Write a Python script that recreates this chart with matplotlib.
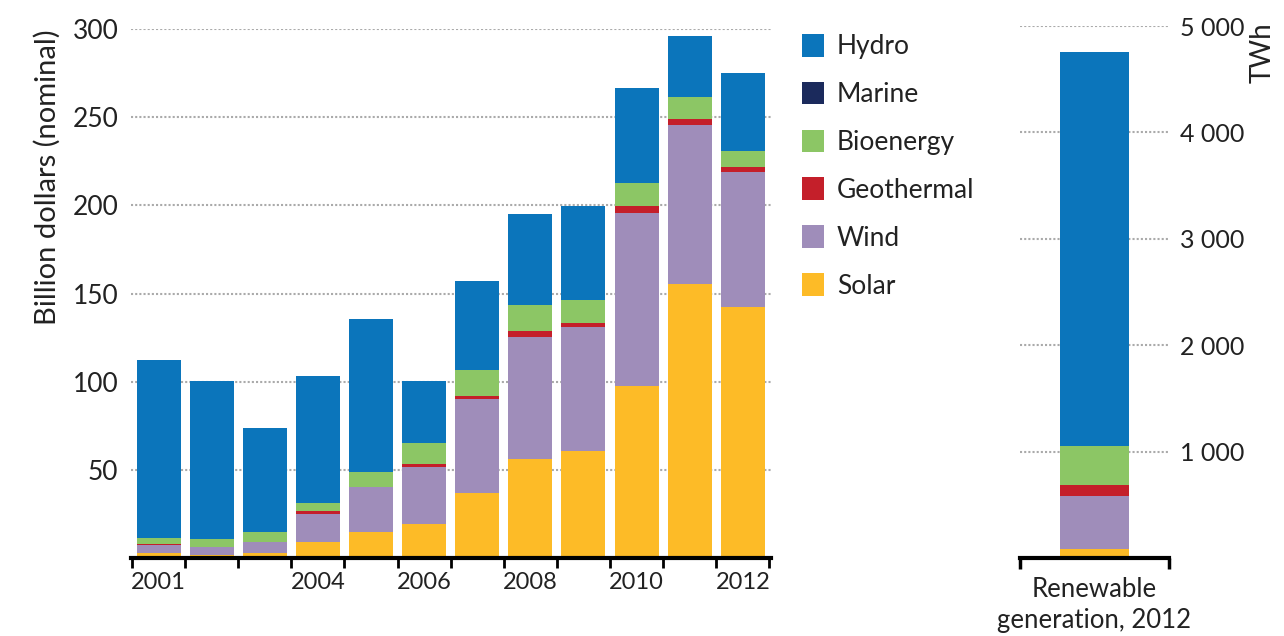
import matplotlib.pyplot as plt
from matplotlib.patches import Patch
from matplotlib import ticker

plt.rcParams['font.family'] = ['Lato', 'DejaVu Sans']

# 投资数据 (billion dollars)
years = ['2001', '2002', '2003', '2004', '2005', '2006',
         '2007', '2008', '2009', '2010', '2011', '2012']
solar = [3, 1.5, 3, 9, 15, 19.3, 37, 56.3, 60.9, 97.7, 155.4, 142.2]
wind = [4.5, 4.5, 6, 16, 25, 32.5, 53, 69.2, 70.3, 97.8, 90.2, 76.6]
geothermal = [0.2, 0.2, 0.2, 1.7, 0.4, 1.5, 2, 3.3, 1.9, 4.3, 3.2, 3.2]
bioenergy = [3.4, 4.4, 5.8, 4.5, 8.4, 11.7, 14.6, 14.5, 13.5, 13, 12.8, 8.8]
marine = [0, 0, 0, 0, 0, 0, 0, 0, 0, 0, 0, 0]
hydro = [101, 90, 59, 72, 87, 35.5, 50.5, 52, 53.1, 53.5, 34.3, 44.4]
shown_years = ['2001', '2004', '2006', '2008', '2010', '2012']

# 2012 可再生能源发电量 (TWh)
gen_2012 = {'Solar': 82, 'Wind': 504, 'Geothermal': 100,
            'Bioenergy': 369, 'Marine': 1, 'Hydro': 3703}
twh_ticks = [1000, 2000, 3000, 4000, 5000]
usd_ticks = [50, 100, 150, 200, 250, 300]

colors = {'Hydro': '#0B75BB', 'Marine': '#1B2A5C', 'Bioenergy': '#8CC665',
          'Geothermal': '#C41F2A', 'Wind': '#9F8DBA', 'Solar': '#FDBB27'}
stack = [('Solar', solar), ('Wind', wind), ('Geothermal', geothermal),
         ('Bioenergy', bioenergy), ('Marine', marine), ('Hydro', hydro)]

fig = plt.figure(figsize=(12.84, 6.36), dpi=100)
ax = fig.add_axes([0.102, 0.1226, 0.4984, 0.8318])
ax2 = fig.add_axes([0.7944, 0.1226, 0.116, 0.8365])

# 左图: 堆叠柱状图
x = list(range(len(years)))
bottom = [0] * len(years)
for name, vals in stack:
    ax.bar(x, vals, bottom=bottom, width=0.83, color=colors[name], zorder=3)
    bottom = [b + v for b, v in zip(bottom, vals)]

ax.set_xlim(-0.52, 11.53)
ax.set_ylim(0, 300)
ax.set_yticks(usd_ticks)
ax.yaxis.grid(True, linestyle=(0, (1, 1)), color='#aaaaaa', linewidth=1.5, zorder=0)
ax.tick_params(axis='y', length=0, pad=9, labelsize=19, labelcolor='#222222')
ax.set_ylabel('Billion dollars (nominal)', fontsize=21, color='#222222')
ax.yaxis.set_label_coords(-0.11, 0.72)

ax.set_xticks([years.index(y) for y in shown_years])
ax.set_xticklabels(shown_years)
ax.set_xticks([i - 0.5 for i in range(len(years) + 1)], minor=True)
ax.tick_params(axis='x', which='major', length=0, pad=10, labelsize=17, labelcolor='#222222')
ax.tick_params(axis='x', which='minor', length=7, width=2, direction='out', color='black')
for s in ['top', 'right', 'left']:
    ax.spines[s].set_visible(False)
ax.spines['bottom'].set_linewidth(3)
ax.spines['bottom'].set_zorder(4)

# 右图: 2012 发电量
b = 0
for name, _ in stack:
    ax2.bar([0.5], [gen_2012[name]], bottom=b, width=0.463, color=colors[name], zorder=3)
    b += gen_2012[name]

ax2.set_xlim(0, 1)
ax2.set_ylim(0, 5000)
ax2.set_yticks(twh_ticks)
ax2.yaxis.set_major_formatter(ticker.FuncFormatter(lambda v, p: f'{int(v):,}'.replace(',', ' ')))
ax2.yaxis.tick_right()
ax2.yaxis.grid(True, linestyle=(0, (1, 1)), color='#aaaaaa', linewidth=1.5, zorder=0)
ax2.tick_params(axis='y', length=0, pad=8, labelsize=18, labelcolor='#222222')
ax2.set_xticks([0, 1])
ax2.set_xticklabels(['', ''])
ax2.tick_params(axis='x', length=8, width=2.5, direction='out', color='black')
ax2.text(0.5, -0.035, 'Renewable\ngeneration, 2012', transform=ax2.transAxes,
         ha='center', va='top', fontsize=18.5, color='#222222', linespacing=1.3)
for s in ['top', 'right', 'left']:
    ax2.spines[s].set_visible(False)
ax2.spines['bottom'].set_linewidth(3)
ax2.spines['bottom'].set_zorder(4)
fig.text(1263 / 1284, 1 - 53 / 636, 'TWh', rotation=90, ha='center', va='center',
         fontsize=20, color='#222222')

# 图例
order = ['Hydro', 'Marine', 'Bioenergy', 'Geothermal', 'Wind', 'Solar']
handles = [Patch(facecolor=colors[n], label=n) for n in order]
fig.legend(handles=handles, loc='upper left', bbox_to_anchor=(778 / 1284, 1 - 10 / 636),
           frameon=False, fontsize=19, handlelength=0.83, handleheight=0.95,
           handletextpad=0.5, labelspacing=0.85, labelcolor='#222222')

fig.savefig('out.png', dpi=100)
